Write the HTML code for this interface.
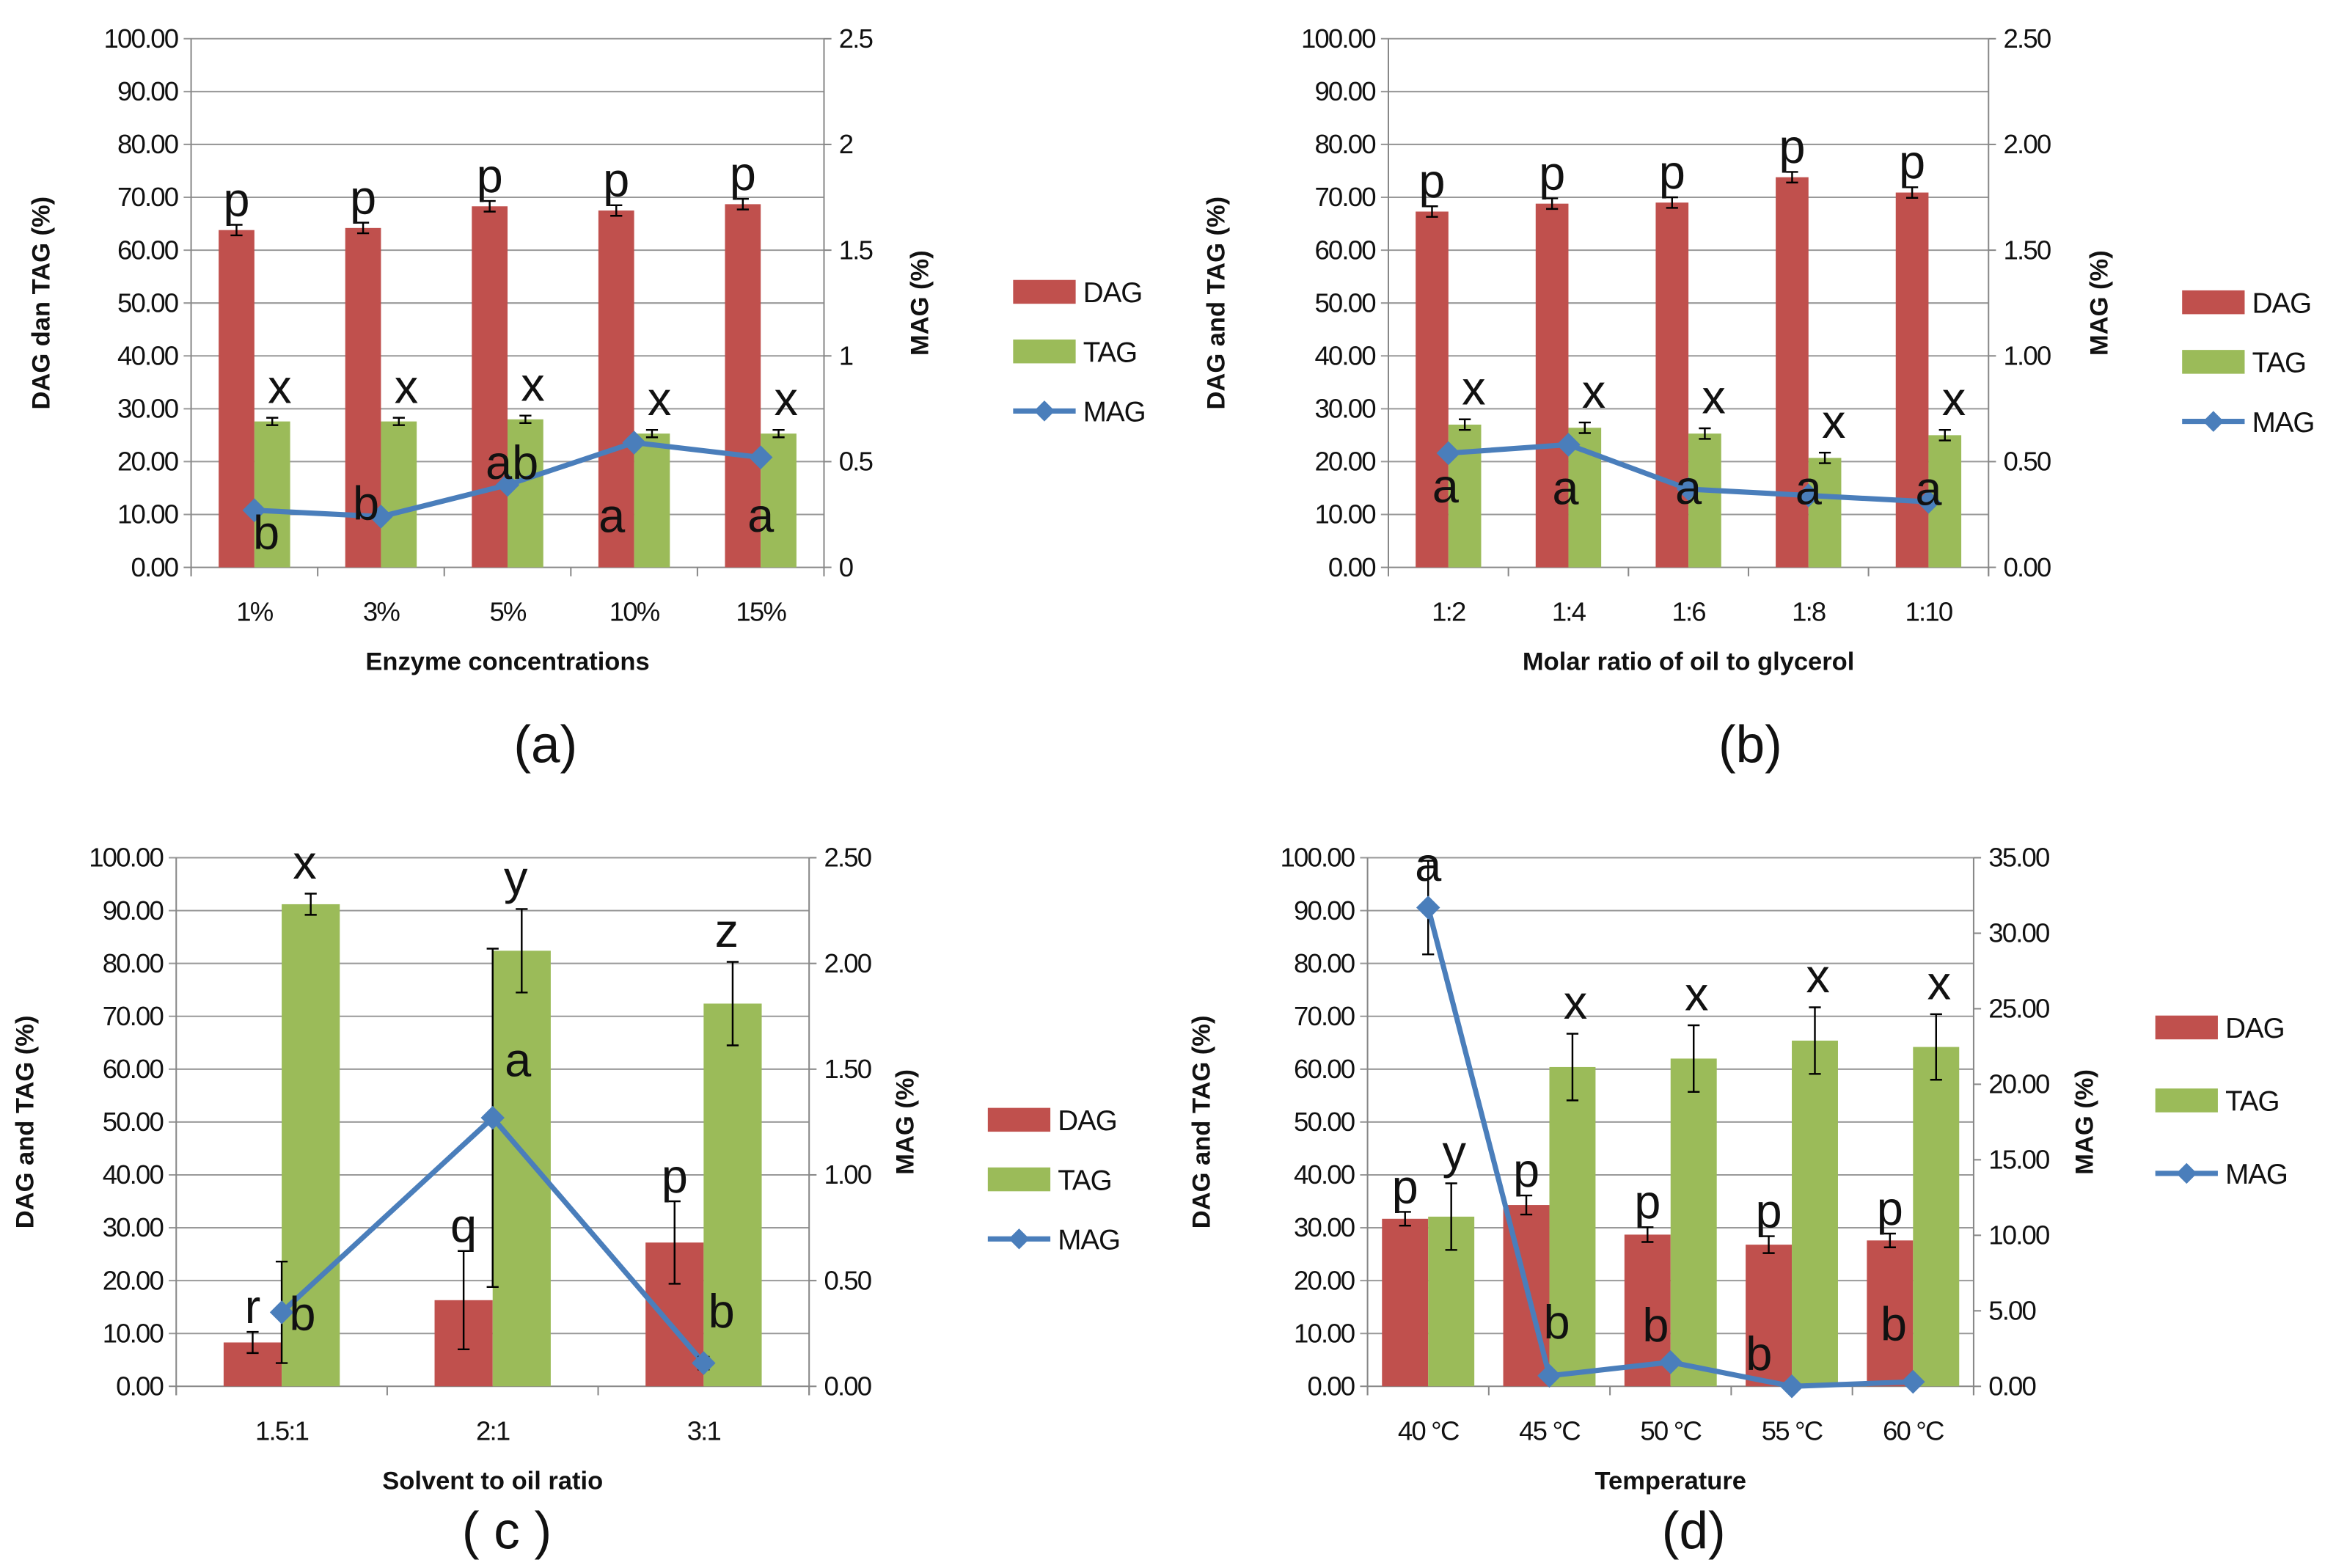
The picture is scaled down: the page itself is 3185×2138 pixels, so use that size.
<!DOCTYPE html>
<html><head><meta charset="utf-8">
<style>
html,body{margin:0;padding:0;background:#fff;}
svg{display:block;}
text{font-family:"Liberation Sans",sans-serif;fill:#111;}
.tick{font-size:18px;letter-spacing:-0.9px;}
.ttl{font-size:17px;font-weight:bold;}
.let{font-size:32px;}
.leg{font-size:19px;letter-spacing:-0.5px;}
.cap{font-size:35px;}
</style></head>
<body>
<svg id="fig" width="3185" height="2138" viewBox="0 0 1568 1053" xmlns="http://www.w3.org/2000/svg"></svg>
<script>
// ---- Panel (a) data ----
const catsA = ["1%","3%","5%","10%","15%"];
const dagA = [63.8,64.2,68.3,67.5,68.7];
const dagErrA = [1,1,1,1,1];
const tagA = [27.6,27.6,28.0,25.3,25.3];
const tagErrA = [0.7,0.7,0.7,0.7,0.7];
const magA = [0.27,0.24,0.39,0.59,0.52];
const magErrA = [0,0,0,0,0];
const rightTicksA = ["0","0.5","1","1.5","2","2.5"];
const dagLetA = ["p","p","p","p","p"];
const tagLetA = ["x","x","x","x","x"];
const magLetA = ["b","b","ab","a","a"];
// ---- Panel (b) data ----
const catsB = ["1:2","1:4","1:6","1:8","1:10"];
const dagB = [67.3,68.8,69.0,73.8,70.9];
const dagErrB = [1,1,1,1,1];
const tagB = [27.0,26.4,25.3,20.7,25.0];
const tagErrB = [1,1,1,1,1];
const magB = [0.54,0.58,0.37,0.34,0.31];
const magErrB = [0,0,0,0,0];
const rightTicksB = ["0.00","0.50","1.00","1.50","2.00","2.50"];
const dagLetB = ["p","p","p","p","p"];
const tagLetB = ["x","x","x","x","x"];
const magLetB = ["a","a","a","a","a"];
// ---- Panel (c) data ----
const catsC = ["1.5:1","2:1","3:1"];
const dagC = [8.3,16.3,27.2];
const dagErrC = [2,9.3,7.8];
const tagC = [91.2,82.4,72.4];
const tagErrC = [2,7.9,7.9];
const magC = [0.35,1.27,0.11];
const magErrC = [0.24,0.8,0.03];
const rightTicksC = ["0.00","0.50","1.00","1.50","2.00","2.50"];
const dagLetC = ["r","q","p"];
const tagLetC = ["x","y","z"];
const magLetC = ["b","a","b"];
// ---- Panel (d) data ----
const catsD = ["40 °C","45 °C","50 °C","55 °C","60 °C"];
const dagD = [31.7,34.3,28.7,26.8,27.6];
const dagErrD = [1.3,1.8,1.4,1.6,1.3];
const tagD = [32.1,60.4,62.0,65.4,64.2];
const tagErrD = [6.3,6.3,6.3,6.3,6.2];
const magD = [31.7,0.7,1.6,0.0,0.3];
const magErrD = [3.1,0,0,0,0];
const rightTicksD = ["0.00","5.00","10.00","15.00","20.00","25.00","30.00","35.00"];
const dagLetD = ["p","p","p","p","p"];
const tagLetD = ["y","x","x","x","x"];
const magLetD = ["a","b","b","b","b"];
const leftTicks = ["0.00","10.00","20.00","30.00","40.00","50.00","60.00","70.00","80.00","90.00","100.00"];

const NS="http://www.w3.org/2000/svg";
const svg=document.getElementById('fig');
function mk(tag,attrs,parent,txt){const e=document.createElementNS(NS,tag);for(const k in attrs)e.setAttribute(k,attrs[k]);if(txt!==undefined)e.textContent=txt;(parent||svg).appendChild(e);return e;}

function panel(o){
  const g=mk('g',{});
  
  
  const n=o.cats.length, cw=(o.x1-o.x0)/n;
  const yL=v=>o.y0-(v/100)*(o.y0-o.y1);
  const rMax=parseFloat(o.rt[o.rt.length-1]);
  const yR=v=>o.y0-(v/rMax)*(o.y0-o.y1);
  const cx=i=>o.x0+cw*(i+0.5);
  leftTicks.forEach((t,i)=>{const y=yL(i*10);
    const l=mk('line',{x1:o.x0-5,x2:o.x1,y1:y,y2:y,stroke:i==0?'#888':'#999','stroke-width':1},g);
    
    const tx=mk('text',{x:o.x0-9,y:y+6,'text-anchor':'end',class:'tick'},g,t);
    });
  mk('line',{x1:o.x0,x2:o.x0,y1:o.y1,y2:o.y0+6,stroke:'#888'},g);
  mk('line',{x1:o.x1,x2:o.x1,y1:o.y1,y2:o.y0+6,stroke:'#888'},g);
  for(let i=0;i<=n;i++) mk('line',{x1:o.x0+cw*i,x2:o.x0+cw*i,y1:o.y0,y2:o.y0+6,stroke:'#888'},g);
  o.rt.forEach((t,i)=>{const y=yR(parseFloat(t));
    mk('line',{x1:o.x1,x2:o.x1+5,y1:y,y2:y,stroke:'#888'},g);
    const tx=mk('text',{x:o.x1+10,y:y+6,class:'tick'},g,t);
    });
  const bw=o.bw;
  function err(x,v,e,yf){ if(!e) return; const a=yf(v+e),b=yf(Math.max(v-e,0));
    mk('line',{x1:x,x2:x,y1:a,y2:b,stroke:'#000','stroke-width':1.2},g);
    mk('line',{x1:x-4,x2:x+4,y1:a,y2:a,stroke:'#000','stroke-width':1.2},g);
    mk('line',{x1:x-4,x2:x+4,y1:b,y2:b,stroke:'#000','stroke-width':1.2},g);}
  o.cats.forEach((c,i)=>{const x=cx(i);
    const r1=mk('rect',{x:x-bw,y:yL(o.dag[i]),width:bw,height:o.y0-yL(o.dag[i]),fill:'#c0504d'},g);
    
    const r2=mk('rect',{x:x,y:yL(o.tag[i]),width:bw,height:o.y0-yL(o.tag[i]),fill:'#9bbb59'},g);
    
    err(x-bw/2,o.dag[i],o.dagE[i],yL); err(x+bw/2,o.tag[i],o.tagE[i],yL);
    const xl=mk('text',{x:x,y:o.y0+36,'text-anchor':'middle',class:'tick'},g,c);
    
    const a=mk('text',{x:x-bw/2,y:yL(o.dag[i]+o.dagE[i])-6,'text-anchor':'middle',class:'let'},g,o.dl[i]);
    
    const b=mk('text',{x:x+bw/2+o.tlx,y:yL(o.tag[i]+o.tagE[i])-10,'text-anchor':'middle',class:'let'},g,o.tl[i]);
    
  });
  const pts=o.mag.map((v,i)=>cx(i)+','+yR(v)).join(' ');
  const pl=mk('polyline',{points:pts,fill:'none',stroke:'#4a7ebb','stroke-width':3.5,'stroke-linejoin':'round'},g);
  
  o.mag.forEach((v,i)=>{const x=cx(i),y=yR(v);
    err(x,v,o.magE[i],yR);
    const d=mk('path',{d:`M${x},${y-8}L${x+8},${y}L${x},${y+8}L${x-8},${y}Z`,fill:'#4a7ebb'},g);
    
    const t=mk('text',{x:x+o.mlx[i],y:y+o.mly[i],'text-anchor':'middle',class:'let'},g,o.ml[i]);
    
  });
  const my=(o.y0+o.y1)/2;
  const t1=mk('text',{x:0,y:0,'text-anchor':'middle',class:'ttl',transform:`translate(${o.x0-o.ltOff},${my}) rotate(-90)`},g,o.ytitle);
  
  const t2=mk('text',{x:0,y:0,'text-anchor':'middle',class:'ttl',transform:`translate(${o.x1+o.rtOff},${my}) rotate(-90)`},g,'MAG (%)');
  
  const t3=mk('text',{x:(o.x0+o.x1)/2,y:o.y0+69,'text-anchor':'middle',class:'ttl'},g,o.xtitle);
  
  const t4=mk('text',{x:o.capX,y:o.capY,'text-anchor':'middle',class:'cap'},g,o.cap);
  
  const L=o.leg;
  const l1=mk('rect',{x:L[0],y:L[1]-8,width:42,height:16,fill:'#c0504d'},g);
  
  mk('text',{x:L[0]+47,y:L[1]+7,class:'leg'},g,'DAG');
  const l2=mk('rect',{x:L[0],y:L[1]+L[2]-8,width:42,height:16,fill:'#9bbb59'},g);
  
  mk('text',{x:L[0]+47,y:L[1]+L[2]+7,class:'leg'},g,'TAG');
  const yy=L[1]+2*L[2];
  mk('line',{x1:L[0],x2:L[0]+42,y1:yy,y2:yy,stroke:'#4a7ebb','stroke-width':3.5},g);
  const l3=mk('path',{d:`M${L[0]+21},${yy-7}L${L[0]+28},${yy}L${L[0]+21},${yy+7}L${L[0]+14},${yy}Z`,fill:'#4a7ebb'},g);
  
  mk('text',{x:L[0]+47,y:yy+7,class:'leg'},g,'MAG');
}

panel({name:'chart-a',cats:catsA,dag:dagA,dagE:dagErrA,tag:tagA,tagE:tagErrA,mag:magA,magE:magErrA,rt:rightTicksA,
  dl:dagLetA,tl:tagLetA,ml:magLetA,mlx:[8,-10,3,-15,0],mly:[26,2,-4,60,50],tlx:5,
  x0:128,x1:553,y0:381,y1:26,bw:24,ytitle:'DAG dan TAG  (%)',xtitle:'Enzyme concentrations',ltOff:95,rtOff:70,
  cap:'(a)',capX:366,capY:512,leg:[680,196,40]});
panel({name:'chart-b',cats:catsB,dag:dagB,dagE:dagErrB,tag:tagB,tagE:tagErrB,mag:magB,magE:magErrB,rt:rightTicksB,
  dl:dagLetB,tl:tagLetB,ml:magLetB,mlx:[-2,-2,0,0,0],mly:[33,40,10,6,2],tlx:6,
  x0:932,x1:1335,y0:381,y1:26,bw:22,ytitle:'DAG and TAG  (%)',xtitle:'Molar  ratio of oil to glycerol',ltOff:110,rtOff:80,
  cap:'(b)',capX:1175,capY:512,leg:[1465,203,40]});
panel({name:'chart-c',cats:catsC,dag:dagC,dagE:dagErrC,tag:tagC,tagE:tagErrC,mag:magC,magE:magErrC,rt:rightTicksC,
  dl:dagLetC,tl:tagLetC,ml:magLetC,mlx:[14,17,12],mly:[12,-28,-24],tlx:-4,
  x0:118,x1:543,y0:931,y1:576,bw:39,ytitle:'DAG and TAG (%)',xtitle:'Solvent to oil ratio',ltOff:96,rtOff:70,
  cap:'( c )',capX:340,capY:1040,leg:[663,752,40]});
panel({name:'chart-d',cats:catsD,dag:dagD,dagE:dagErrD,tag:tagD,tagE:tagErrD,mag:magD,magE:magErrD,rt:rightTicksD,
  dl:dagLetD,tl:tagLetD,ml:magLetD,mlx:[0,5,-10,-22,-13],mly:[-18,-25,-14,-11,-28],tlx:2,
  x0:918,x1:1325,y0:931,y1:576,bw:31,ytitle:'DAG and TAG (%)',xtitle:'Temperature',ltOff:106,rtOff:80,
  cap:'(d)',capX:1137,capY:1040,leg:[1447,690,49]});
</script>
</body></html>
